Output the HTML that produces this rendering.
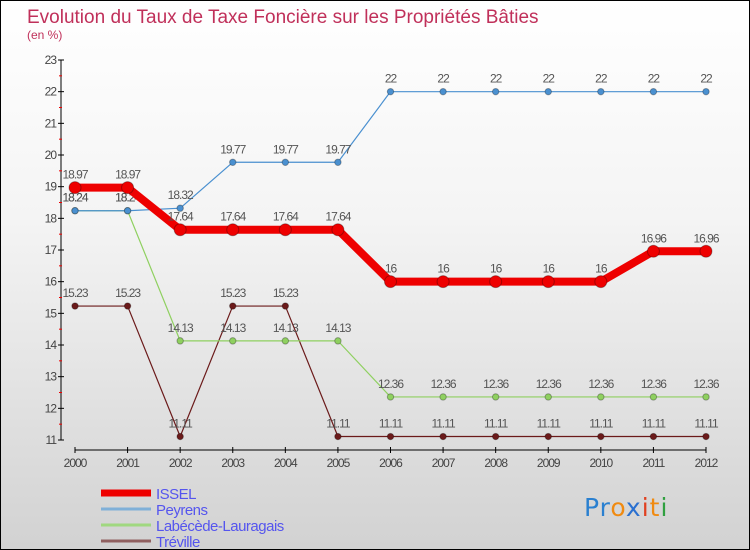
<!DOCTYPE html>
<html><head><meta charset="utf-8"><style>
body{margin:0}
#wrap{width:748px;height:548px;border:1px solid #000;background:linear-gradient(#fff 0%,#f4f4f4 40%,#d2d2d2 100%);position:relative;overflow:hidden;font-family:"Liberation Sans",sans-serif}
</style></head><body>
<div id="wrap">
<svg id="svg" width="748" height="548"></svg>
</div>
<script>
const years=[2000,2001,2002,2003,2004,2005,2006,2007,2008,2009,2010,2011,2012];
const issel=[18.97,18.97,17.64,17.64,17.64,17.64,16,16,16,16,16,16.96,16.96];
const peyrens=[18.24,18.24,18.32,19.77,19.77,19.77,22,22,22,22,22,22,22];
const labecede=[18.24,18.24,14.13,14.13,14.13,14.13,12.36,12.36,12.36,12.36,12.36,12.36,12.36];
const treville=[15.23,15.23,11.11,15.23,15.23,11.11,11.11,11.11,11.11,11.11,11.11,11.11,11.11];
const yTicks=[11,12,13,14,15,16,17,18,19,20,21,22,23];
const NS="http://www.w3.org/2000/svg";
const svg=document.getElementById('svg');
const X=i=>74+i*(631/12);
const Y=v=>439-(v-11)*(380/12);
function el(t,a,txt){const e=document.createElementNS(NS,t);for(const k in a)e.setAttribute(k,a[k]);if(txt!==undefined)e.textContent=txt;svg.appendChild(e);return e;}
let t=el('text',{x:26,y:22,'font-size':19,fill:'#c0305a'},'Evolution du Taux de Taxe Foncière sur les Propriétés Bâties');

t=el('text',{x:26,y:38,'font-size':12,fill:'#c0305a'},'(en %)');

let a=el('line',{x1:60,y1:Y(23),x2:60,y2:Y(11),stroke:'#000'});

yTicks.forEach(v=>{
 el('line',{x1:57,x2:63,y1:Y(v),y2:Y(v),stroke:'#000'});
 if(v<23){el('line',{x1:58,x2:61,y1:Y(v+0.5),y2:Y(v+0.5),stroke:'#e00'});}
 const l=el('text',{x:55,y:Y(v)+4,'font-size':12,fill:'#444','text-anchor':'end','letter-spacing':'-1'},v);
 
});
a=el('line',{x1:X(0),y1:449,x2:X(12),y2:449,stroke:'#000'});

years.forEach((y,i)=>{
 el('line',{x1:X(i),x2:X(i),y1:446,y2:452,stroke:'#000'});
 const l=el('text',{x:X(i),y:466,'font-size':12,fill:'#444','text-anchor':'middle','letter-spacing':'-1'},y);
 
});
function series(vals,color,w,r,name){
 const p=el('polyline',{points:vals.map((v,i)=>X(i)+','+Y(v)).join(' '),fill:'none',stroke:color,'stroke-width':w,'stroke-linejoin':'round'});
 
 vals.forEach((v,i)=>{
  const c=el('circle',{cx:X(i),cy:Y(v),r:r,fill:color,stroke:'rgba(0,0,0,0.3)'});
  
  const l=el('text',{x:X(i),y:Y(v)-9,'font-size':12,fill:'#555','text-anchor':'middle','letter-spacing':'-1'},String(v));
  
 });
}
series(treville,'#6b1a1a',1.2,3.2,'treville');
series(labecede,'#8fd060',1.2,3.2,'labecede');
series(peyrens,'#4a90d0',1.2,3.2,'peyrens');
series(issel,'#ee0000',8,6,'issel');
const leg=[['ISSEL','#ee0000',7],['Peyrens','#80b0d8',3],['Labécède-Lauragais','#a0d880',3],['Tréville','#906060',3]];
leg.forEach((d,i)=>{
 const y=492+i*16;
 const ln=el('line',{x1:100,x2:150,y1:y,y2:y,stroke:d[1],'stroke-width':d[2]});
 
 const l=el('text',{x:155,y:y+6,'font-size':15,fill:'#5555ee','letter-spacing':'-0.5'},d[0]);
 
});
const logo=el('text',{x:583,y:515,'font-size':25,'font-family':'"DejaVu Sans",sans-serif','letter-spacing':'1'});

[['P','#2a80d0'],['r','#2a80d0'],['o','#f08a10'],['x','#2a70d0'],['i','#e04020'],['t','#f08a10'],['i','#30a040']].forEach(c=>{
 const s=document.createElementNS(NS,'tspan');s.setAttribute('fill',c[1]);s.textContent=c[0];logo.appendChild(s);
});
</script>
</body></html>
